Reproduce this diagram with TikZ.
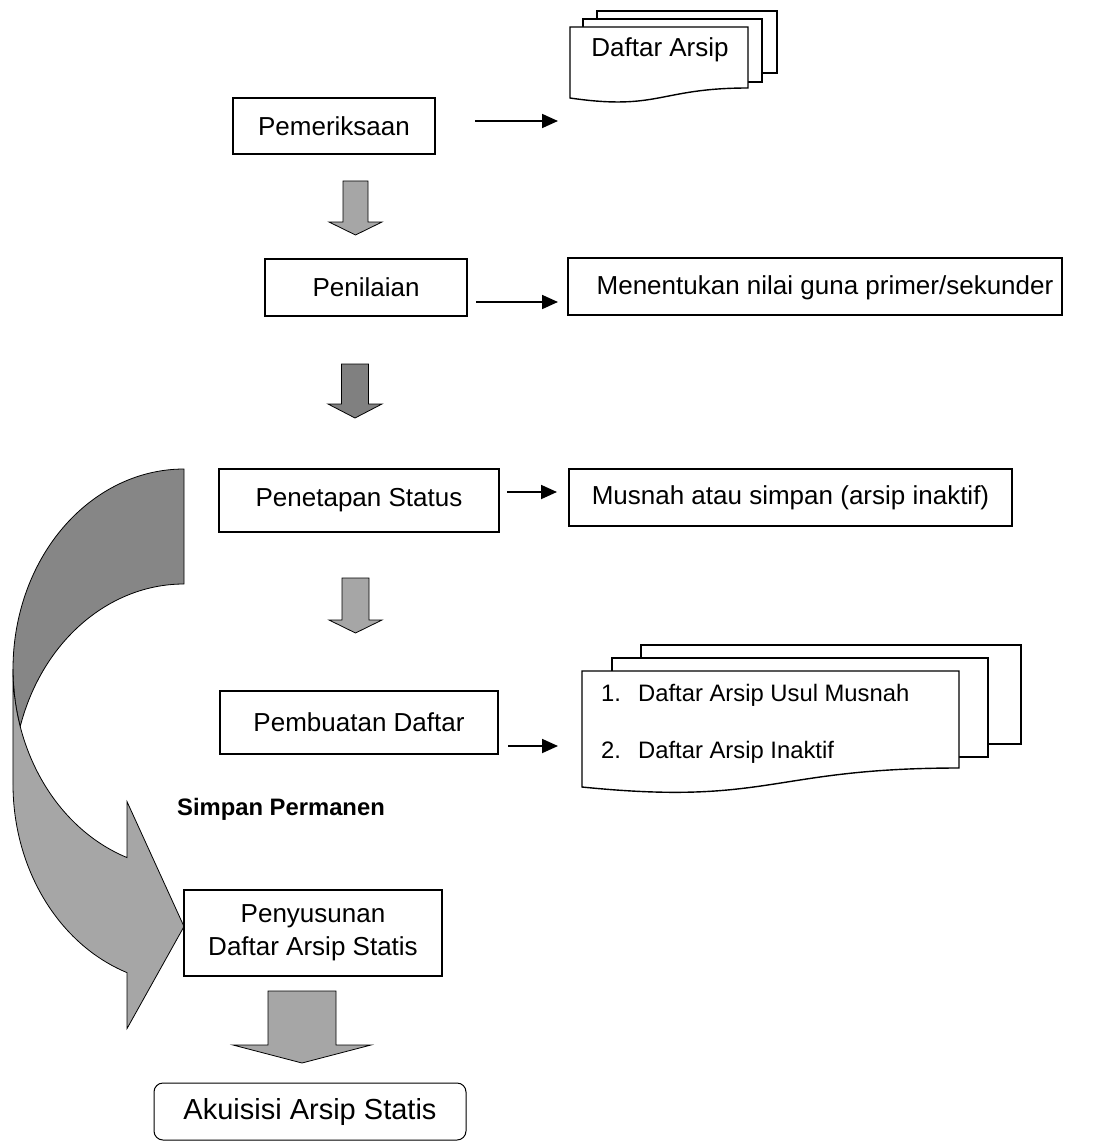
\documentclass[tikz,border=0pt]{standalone}
\usepackage{fontspec}
\setmainfont{Liberation Sans}
\usetikzlibrary{arrows.meta}
\definecolor{lightg}{HTML}{A6A6A6}
\definecolor{darkg}{HTML}{808080}
\definecolor{bandg}{HTML}{868686}
\newcommand\blkarr[7]{\draw[blk, fill=#7] (#1-#3,-#2) -- (#1+#3,-#2) -- (#1+#3,-#4) -- (#1+#5,-#4) -- (#1,-#6) -- (#1-#5,-#4) -- (#1-#3,-#4) -- cycle;}
\begin{document}
\begin{tikzpicture}[x=1pt,y=1pt,
  box/.style={draw=black, line width=1.4pt, fill=white, inner sep=0pt, font=\fontsize{26}{31}\selectfont},
  txt/.style={inner sep=0pt, font=\fontsize{26}{31}\selectfont},
  smalltxt/.style={inner sep=0pt, font=\fontsize{23.8}{28}\selectfont},
  conn/.style={line width=1.8pt, -{Triangle[length=16pt,width=14pt]}},
  blk/.style={draw=black, line width=0.8pt},
  docline/.style={draw=black, line width=1.4pt, fill=white},
]
\useasboundingbox (0,0) rectangle (1093,-1142);

% curved arrow (back band and front band)
\draw[blk, fill=bandg] (184,-584) arc[start angle=90, end angle=163.29, x radius=171, y radius=200]
  arc[start angle=196.71, end angle=90, x radius=171, y radius=200] -- cycle;
\draw[blk, fill=lightg] (13,-669) arc[start angle=180, end angle=250.53, x radius=171, y radius=200]
  -- (127,-801.6) -- (184,-926.5) -- (127,-1028.6) -- (127,-972.6)
  arc[start angle=250.53, end angle=180, x radius=171, y radius=200] -- cycle;

% boxes
\node[box, minimum width=202pt, minimum height=56pt] (pem) at (334,-126) {Pemeriksaan};
\node[box, minimum width=202pt, minimum height=57pt] (penil) at (366,-287.5) {Penilaian};
\node[box, minimum width=494pt, minimum height=57pt] (ment) at (815,-286.5) {};
\node[txt] (mentt) at ([xshift=10pt,yshift=-1.5pt]ment.center) {Menentukan nilai guna primer/sekunder};
\node[box, minimum width=280pt, minimum height=63pt] (penet) at (359,-500.5) {Penetapan Status};
\node[box, minimum width=443pt, minimum height=57pt] (musnah) at (790.5,-497.5) {Musnah atau simpan (arsip inaktif)};
\node[box, minimum width=278pt, minimum height=63pt] (pembu) at (359,-722.5) {Pembuatan Daftar};
\node[box, minimum width=258pt, minimum height=86pt, align=center, font=\fontsize{26}{33}\selectfont] (penyu) at (313,-933) {Penyusunan\\Daftar Arsip Statis};
\node[box, line width=1pt, rounded corners=9pt, minimum width=312pt, minimum height=57pt, font=\fontsize{29}{34}\selectfont] (akui) at (310,-1111.5) {Akuisisi Arsip Statis};

% top document stack
\path[docline] (597,-11) rectangle (777,-73);
\path[docline] (583,-19) rectangle (762,-82);
\path[docline] (570,-27) -- (748,-27) -- (748,-88) .. controls (659,-88) and (659,-111) .. (570,-98) -- cycle;
\node[txt] (doc1) at (660,-50) {Daftar Arsip};

% multi document
\path[docline] (641,-645) rectangle (1021,-744);
\path[docline] (612,-658) rectangle (988,-757);
\path[docline] (582,-671) -- (959,-671) -- (959,-768) .. controls (770,-768) and (770,-806) .. (582,-787) -- cycle;
\node[smalltxt, anchor=base west] (n1) at (601,-701.5) {1.};
\node[smalltxt, anchor=base west] (l1) at (638,-701.5) {Daftar Arsip Usul Musnah};
\node[smalltxt, anchor=base west] (n2) at (601,-758) {2.};
\node[smalltxt, anchor=base west] (l2) at (638,-758) {Daftar Arsip Inaktif};

% label
\node[inner sep=0pt, anchor=base, font=\fontsize{23.8}{28}\selectfont\bfseries] (simpan) at (281,-815) {Simpan Permanen};

% block arrows
\blkarr{355.5}{181}{12.5}{222}{26.5}{235}{lightg}
\blkarr{355}{364}{13.5}{404}{27}{418}{darkg}
\blkarr{355.5}{578}{13.5}{620}{26.5}{633}{lightg}
\blkarr{302}{991}{34}{1045}{69}{1063}{lightg}

% connectors
\coordinate (a1s) at (475,-121); \coordinate (a1e) at (558,-121);
\coordinate (a2s) at (476,-302); \coordinate (a2e) at (558,-302);
\coordinate (a3s) at (507,-492); \coordinate (a3e) at (557,-492);
\coordinate (a4s) at (508,-746); \coordinate (a4e) at (558,-746);
\draw[conn] (a1s) -- (a1e);
\draw[conn] (a2s) -- (a2e);
\draw[conn] (a3s) -- (a3e);
\draw[conn] (a4s) -- (a4e);
\end{tikzpicture}
\end{document}
